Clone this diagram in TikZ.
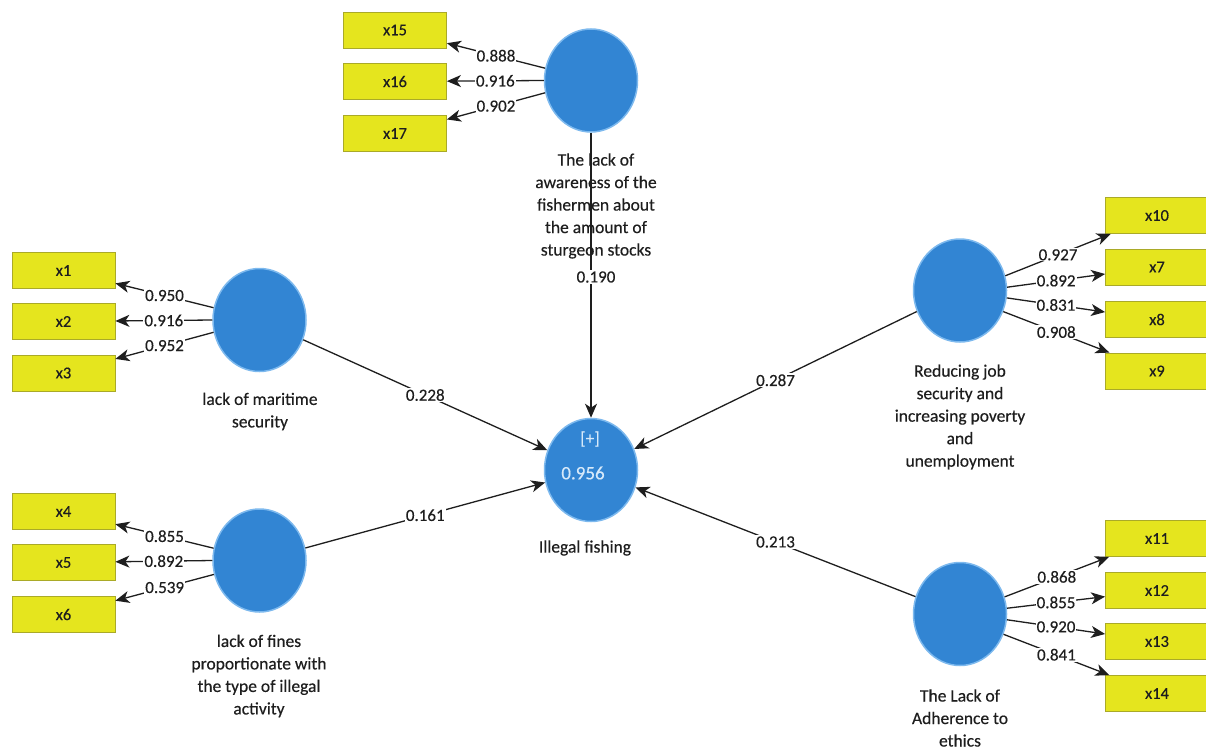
\documentclass[tikz,border=0pt]{standalone}
\usepackage{fontspec}
\setmainfont[FakeBold=0.35]{Carlito}
\usetikzlibrary{shapes.geometric,arrows.meta,calc}
\definecolor{plsblue}{RGB}{50,133,211}
\definecolor{plsedge}{RGB}{125,185,238}
\definecolor{boxfill}{RGB}{229,229,30}
\definecolor{boxedge}{RGB}{170,170,40}
\definecolor{innertxt}{RGB}{214,233,250}
\definecolor{txt}{RGB}{30,30,30}
\begin{document}
\begin{tikzpicture}[x=1pt,y=-1pt,
 lv/.style={ellipse,fill=plsblue,draw=plsedge,line width=1.5pt,minimum width=93pt,minimum height=103pt,inner sep=0pt},
 mv/.style={rectangle,fill=boxfill,draw=boxedge,line width=0.8pt,minimum width=103pt,minimum height=36pt,inner sep=0pt,text=txt,font=\fontsize{16.5}{19}\selectfont},
 val/.style={fill=white,inner sep=1pt,text=txt,font=\fontsize{17}{19}\selectfont},
 lvtext/.style={align=center,text=txt,font=\fontsize{17.5}{22.5}\selectfont,inner sep=0pt},
 arr/.style={line width=1.3pt,draw=txt,-{Stealth[length=14pt,width=12pt,inset=4pt]}}
]
\useasboundingbox (0,0) rectangle (1206,749);
\fill[white] (0,0) rectangle (1206,749);
\clip (0,0) rectangle (1206,749);

% latent variables
\node[lv] (T) at (591,80.5) {};
\node[lv] (L1) at (259.5,320) {};
\node[lv] (L2) at (259.5,560.5) {};
\node[lv] (C) at (591,470) {};
\node[lv] (R1) at (960,290.5) {};
\node[lv] (R2) at (960,614) {};

% indicator boxes
\node[mv] (x15) at (395,30) {x15};
\node[mv] (x16) at (395,81.5) {x16};
\node[mv] (x17) at (395,133.5) {x17};
\node[mv] (x1) at (63.5,270.5) {x1};
\node[mv] (x2) at (63.5,321.5) {x2};
\node[mv] (x3) at (63.5,373) {x3};
\node[mv] (x4) at (63.5,511.5) {x4};
\node[mv] (x5) at (63.5,562.5) {x5};
\node[mv] (x6) at (63.5,614.5) {x6};
\node[mv] (x10) at (1157,215.5) {x10};
\node[mv] (x7) at (1157,267) {x7};
\node[mv] (x8) at (1157,319.5) {x8};
\node[mv] (x9) at (1157,371) {x9};
\node[mv] (x11) at (1157,538.5) {x11};
\node[mv] (x12) at (1157,590.5) {x12};
\node[mv] (x13) at (1157,641.5) {x13};
\node[mv] (x14) at (1157,693.5) {x14};

% latent variable texts
\node[lvtext] (tT) at (596,206) {The lack of\\awareness of the\\fishermen about\\the amount of\\sturgeon stocks};
\node[lvtext] (tL1) at (260,411.5) {lack of maritime\\security};
\node[lvtext] (tL2) at (259,676) {lack of fines\\proportionate with\\the type of illegal\\activity};
\node[lvtext] (tC) at (585,548) {Illegal fishing};
\node[lvtext] (tR1) at (960,417) {Reducing job\\security and\\increasing poverty\\and\\unemployment};
\node[lvtext] (tR2) at (960,718) {The Lack of\\Adherence to\\ethics};
\node[text=innertxt,font=\fontsize{17.5}{20}\selectfont] (plus) at (590,439) {[+]};
\node[text=innertxt,font=\fontsize{19}{20}\selectfont] (r2) at (583,473) {0.956};

% outer model
\draw[arr] (T.165) -- node[val]{0.888} (x15);
\draw[arr] (T.180) -- node[val]{0.916} (x16);
\draw[arr] (T.195) -- node[val]{0.902} (x17);
\draw[arr] (L1.165) -- node[val]{0.950} (x1);
\draw[arr] (L1.180) -- node[val]{0.916} (x2);
\draw[arr] (L1.195) -- node[val]{0.952} (x3);
\draw[arr] (L2.165) -- node[val]{0.855} (x4);
\draw[arr] (L2.180) -- node[val]{0.892} (x5);
\draw[arr] (L2.197) -- node[val]{0.539} (x6);
\draw[arr] (R1.18) -- node[val]{0.927} (x10);
\draw[arr] (R1.4) -- node[val]{0.892} (x7);
\draw[arr] (R1.-9) -- node[val]{0.831} (x8);
\draw[arr] (R1.-26) -- node[val]{0.908} (x9);
\draw[arr] (R2.21) -- node[val]{0.868} (x11);
\draw[arr] (R2.7) -- node[val]{0.855} (x12);
\draw[arr] (R2.-7) -- node[val]{0.920} (x13);
\draw[arr] (R2.-25) -- node[val]{0.841} (x14);

% inner model
\draw[arr] (T) -- (C);
\node[val] (p190) at (596,277) {0.190};
\draw[arr] (L1) -- node[val]{0.228} (C);
\draw[arr] (L2) -- node[val]{0.161} (C);
\draw[arr] (R1) -- node[val]{0.287} (C);
\draw[arr] (R2) -- node[val]{0.213} (C);
\end{tikzpicture}
\end{document}
